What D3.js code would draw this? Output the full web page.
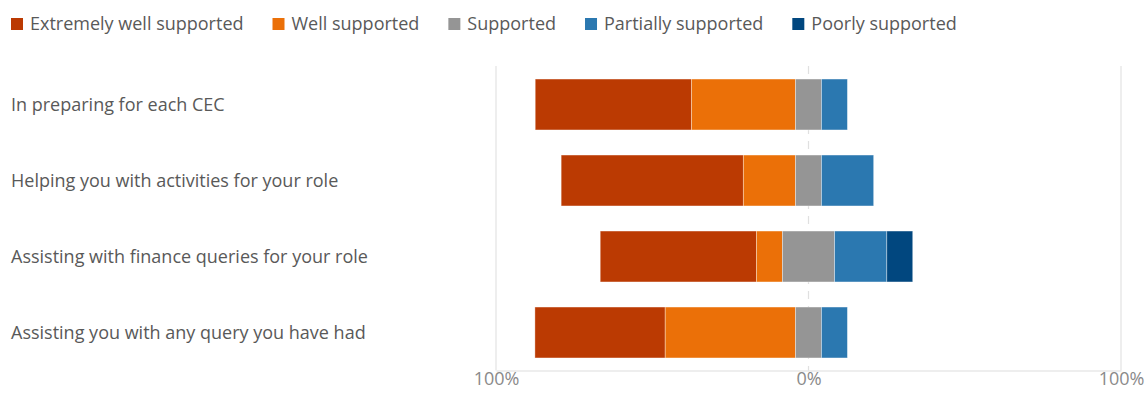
<!DOCTYPE html>
<html>
<head>
<meta charset="utf-8">
<script src="https://cdn.jsdelivr.net/npm/d3@7"></script>
<style>
  html, body { margin: 0; padding: 0; background: #ffffff; }
  svg { display: block; font-family: "Open Sans", "Noto Sans", sans-serif; }
</style>
</head>
<body>
<svg id="chart" width="1147" height="417"></svg>
<script>
// Survey questions (rows, top to bottom)
const categories = [
  "In preparing for each CEC",
  "Helping you with activities for your role",
  "Assisting with finance queries for your role",
  "Assisting you with any query you have had"
];

// Response levels, from most to least positive
const levels = [
  "Extremely well supported",
  "Well supported",
  "Supported",
  "Partially supported",
  "Poorly supported"
];

// Share of responses (%) per level, one value per question
const extremelyWell = [50.0, 58.3, 50.0, 41.7];
const well          = [33.3, 16.7,  8.3, 41.7];
const supported     = [ 8.3,  8.3, 16.7,  8.3];
const partially     = [ 8.3, 16.7, 16.7,  8.3];
const poorly        = [ 0.0,  0.0,  8.3,  0.0];

// Axis ticks
const tickValues = [-100, 0, 100];
const tickLabels = ["100%", "0%", "100%"];

const colors = ["#bb3a02", "#eb7008", "#959595", "#2b78b0", "#01477f"];
const seriesValues = [extremelyWell, well, supported, partially, poorly];

const svg = d3.select("#chart");

const x = d3.scaleLinear().domain([-100, 100]).range([496, 1121]);
const y = d3.scaleBand()
  .domain(categories)
  .range([66.5, 370.5])
  .paddingInner(0.33)
  .paddingOuter(0.165);

// Build diverging segments: the neutral level is centred on 0%
const segments = [];
categories.forEach((cat, i) => {
  let start = -(extremelyWell[i] + well[i] + supported[i] / 2);
  seriesValues.forEach((vals, k) => {
    const v = vals[i];
    if (v > 0) segments.push({ cat, level: k, x0: start, x1: start + v });
    start += v;
  });
});

// Gridlines at the ends and dashed centre line
const gridTop = 66;
const gridBottom = 370.5;
svg.append("g").selectAll("line.grid")
  .data([-100, 100])
  .join("line")
  .attr("x1", d => x(d)).attr("x2", d => x(d))
  .attr("y1", gridTop).attr("y2", gridBottom)
  .attr("stroke", "#e3e3e3").attr("stroke-width", 1.2);

svg.append("line")
  .attr("x1", x(0)).attr("x2", x(0))
  .attr("y1", gridTop).attr("y2", gridBottom)
  .attr("stroke", "#e0e0e0").attr("stroke-width", 1.2)
  .attr("stroke-dasharray", "8,7");

// Bars
svg.append("g").selectAll("rect")
  .data(segments)
  .join("rect")
  .attr("x", d => x(d.x0))
  .attr("width", d => x(d.x1) - x(d.x0))
  .attr("y", d => y(d.cat))
  .attr("height", y.bandwidth())
  .attr("fill", d => colors[d.level])
  .attr("stroke", "#ffffff")
  .attr("stroke-opacity", 0.45)
  .attr("stroke-width", 0.8);

// X axis
const xAxis = d3.axisBottom(x)
  .tickValues(tickValues)
  .tickFormat((d, i) => tickLabels[i])
  .tickSize(0)
  .tickSizeOuter(0)
  .tickPadding(2);

const axisG = svg.append("g")
  .attr("transform", `translate(0,${gridBottom})`)
  .call(xAxis);
axisG.select(".domain").attr("stroke", "#dedede").attr("stroke-width", 1.2);
axisG.selectAll("text")
  .attr("fill", "#8a8a8a")
  .style("font-size", "18px")
  .style("font-family", "'Open Sans', 'Noto Sans', sans-serif");

// Category labels
svg.append("g").selectAll("text")
  .data(categories)
  .join("text")
  .attr("x", 11)
  .attr("y", d => y(d) + y.bandwidth() / 2)
  .attr("dy", "0.36em")
  .attr("fill", "#595959")
  .style("font-size", "18px")
  .text(d => d);

// Legend
const legend = svg.append("g");
let lx = 11;
levels.forEach((name, k) => {
  const item = legend.append("g").attr("transform", `translate(${lx},0)`);
  item.append("rect")
    .attr("x", 0).attr("y", 18)
    .attr("width", 12).attr("height", 12)
    .attr("fill", colors[k]);
  const t = item.append("text")
    .attr("x", 19).attr("y", 29.5)
    .attr("fill", "#595959")
    .style("font-size", "18px")
    .text(name);
  lx += 19 + t.node().getComputedTextLength() + 29;
});
</script>
</body>
</html>
